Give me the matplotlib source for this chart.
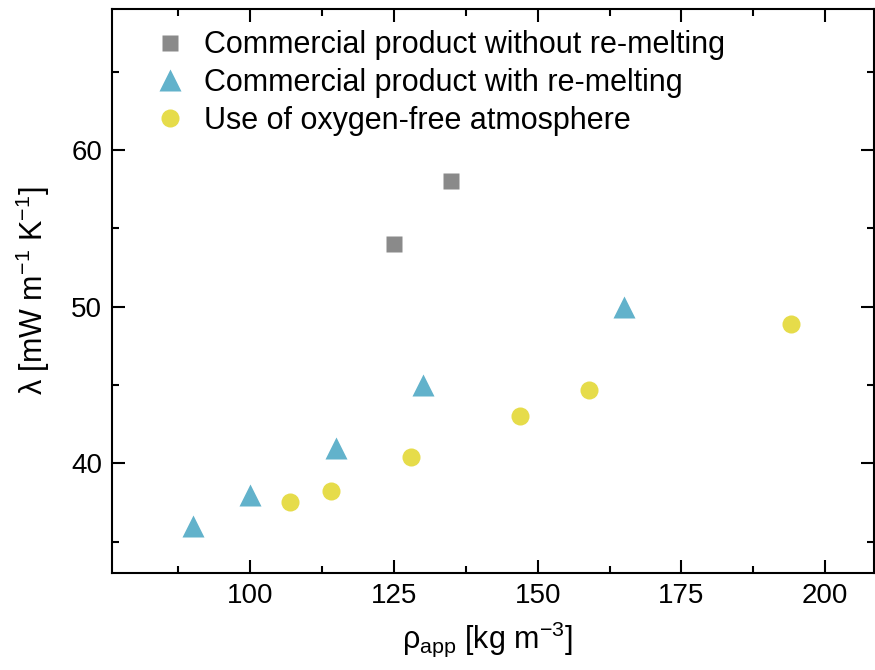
import numpy as np
import matplotlib
matplotlib.use("Agg")
import matplotlib.pyplot as plt
from matplotlib.ticker import MultipleLocator

plt.rcParams['font.family'] = ['Liberation Sans', 'DejaVu Sans']
plt.rcParams['mathtext.fontset'] = 'custom'
plt.rcParams['mathtext.rm'] = 'Liberation Sans'
plt.rcParams['mathtext.it'] = 'Liberation Sans'

# apparent density [kg m-3] and thermal conductivity [mW m-1 K-1]
rho_no_remelt = [125, 135]
lam_no_remelt = [54.0, 58.0]

rho_remelt = [90, 100, 115, 130, 165]
lam_remelt = [36.0, 38.0, 41.0, 45.0, 50.0]

rho_o2free = [107, 114, 128, 147, 159, 194]
lam_o2free = [37.5, 38.2, 40.4, 43.0, 44.7, 48.9]

labels = ['Commercial product without re-melting',
          'Commercial product with re-melting',
          'Use of oxygen-free atmosphere']

fig = plt.figure(figsize=(8.75, 6.7), dpi=100)
ax = fig.add_axes([0.128, 0.145, 0.871, 0.8415])

ax.plot(rho_no_remelt, lam_no_remelt, 's', color='#8a8a8a', ms=11, mec='none', label=labels[0])
ax.plot(rho_remelt, lam_remelt, '^', color='#62b2cb', ms=16, mec='none', label=labels[1])
ax.plot(rho_o2free, lam_o2free, 'o', color='#e6dc4a', ms=13, mec='none', label=labels[2])

ax.set_xlim(76, 208.5)
ax.set_ylim(33, 69)
ax.xaxis.set_major_locator(MultipleLocator(25))
ax.xaxis.set_minor_locator(MultipleLocator(12.5))
ax.yaxis.set_major_locator(MultipleLocator(10))
ax.yaxis.set_minor_locator(MultipleLocator(5))

for s in ax.spines.values():
    s.set_linewidth(1.5)
ax.tick_params(which='both', direction='in', top=True, right=True, width=1.5,
               labelsize=20, pad=7)
ax.tick_params(which='major', length=9.5)
ax.tick_params(which='minor', length=5)

ax.set_xlabel(r'$\rho_{\mathrm{app}}$ [kg m$^{\mathrm{-3}}$]', fontsize=22, labelpad=8, x=0.492)
ax.set_ylabel(r'$\lambda$ [mW m$^{\mathrm{-1}}$ K$^{\mathrm{-1}}$]', fontsize=22, labelpad=14)

ax.legend(loc='upper left', frameon=False, fontsize=22, handletextpad=0.35,
          handlelength=1.5, borderaxespad=0.3, labelspacing=0.25,
          bbox_to_anchor=(0.018, 1.0))

fig.savefig('out.png', dpi=100)
